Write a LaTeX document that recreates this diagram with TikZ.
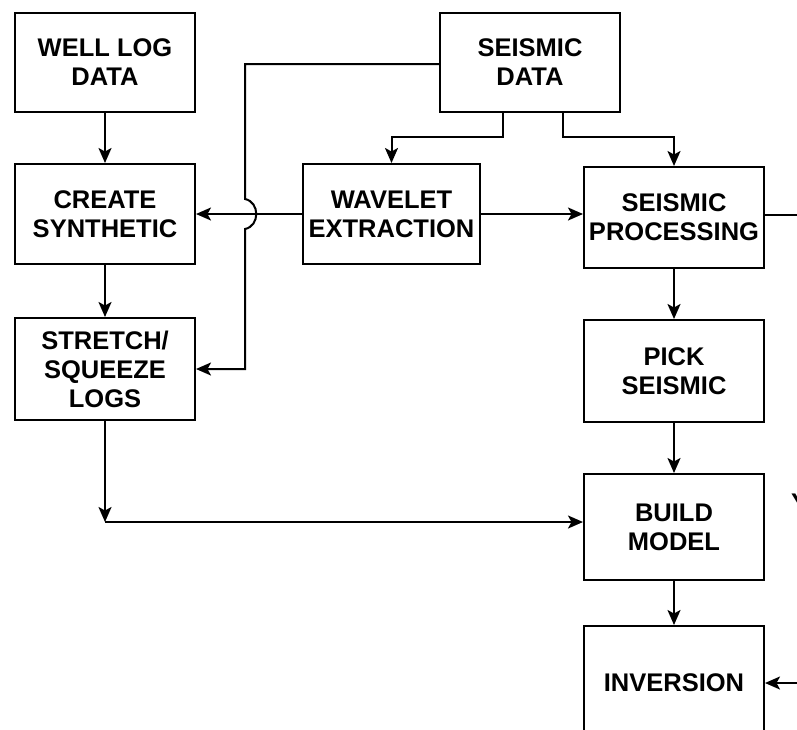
\documentclass[tikz,border=0pt]{standalone}
\usepackage{fontspec}
\setmainfont{Liberation Sans}
\usetikzlibrary{arrows.meta}
\begin{document}
\begin{tikzpicture}[x=1pt,y=1pt,
  box/.style={draw, line width=2pt, inner sep=0pt, align=center, minimum width=180pt,
    font=\fontsize{25.5}{29}\selectfont\bfseries},
  conn/.style={line width=2pt},
  arr/.style={conn, -{Stealth[length=15pt,width=13pt,inset=3.5pt]}}]
\useasboundingbox (0,0) rectangle (797,-729);
\fill[white] (0,0) rectangle (797,-729);
% boxes
\node[box, minimum height=99pt] (well) at (105,-62.5) {WELL LOG\\DATA};
\node[box, minimum height=100pt] (create) at (105,-214) {CREATE\\SYNTHETIC};
\node[box, minimum height=102pt] (stretch) at (105,-369) {STRETCH/\\SQUEEZE\\LOGS};
\node[box, minimum height=99pt] (seis) at (530,-62.5) {SEISMIC\\DATA};
\node[box, minimum width=177pt, minimum height=100pt] (wave) at (391.5,-214) {WAVELET\\EXTRACTION};
\node[box, minimum height=101pt] (proc) at (674,-217.5) {SEISMIC\\PROCESSING};
\node[box, minimum height=102pt] (pick) at (674,-371) {PICK\\SEISMIC};
\node[box, minimum height=106pt] (build) at (674,-527) {BUILD\\MODEL};
\node[box, minimum height=114pt] (inv) at (674,-683) {INVERSION};
\node[anchor=base west, inner sep=0pt, font=\fontsize{25.5}{29}\selectfont\bfseries] (ytxt) at (791,-511) {Y};
% coordinates
\coordinate (j1) at (245,-64);
\coordinate (b1) at (245,-199);
\coordinate (b2) at (245,-229);
\coordinate (j2) at (245,-369);
\coordinate (t1) at (503,-137);
\coordinate (t2) at (563,-137);
\coordinate (pr) at (800,-215);
\coordinate (c) at (105,-522);
\coordinate (ir) at (800,-683);
% connectors
\draw[arr] (well.south) -- (create.north);
\draw[arr] (create.south) -- (stretch.north);
\draw[arr] (seis.west |- j1) -- (j1) -- (b1) .. controls +(15,-3) and +(15,3) .. (b2) -- (j2) -- (stretch.east |- j2);
\draw[arr] (wave.west) -- (create.east);
\draw[arr] (wave.east) -- (wave.east -| proc.west);
\draw[arr] (seis.south -| t1) -- (t1) -| (wave.north);
\draw[arr] (seis.south -| t2) -- (t2) -| (proc.north);
\draw[conn] (proc.east |- pr) -- (pr);
\draw[arr] (proc.south) -- (pick.north);
\draw[arr] (pick.south) -- (build.north);
\draw[arr] (build.south) -- (inv.north);
\draw[arr] (stretch.south) -- (c);
\draw[arr] (c) -- (c -| build.west);
\draw[arr] (ir) -- (ir -| inv.east);
\end{tikzpicture}
\end{document}
